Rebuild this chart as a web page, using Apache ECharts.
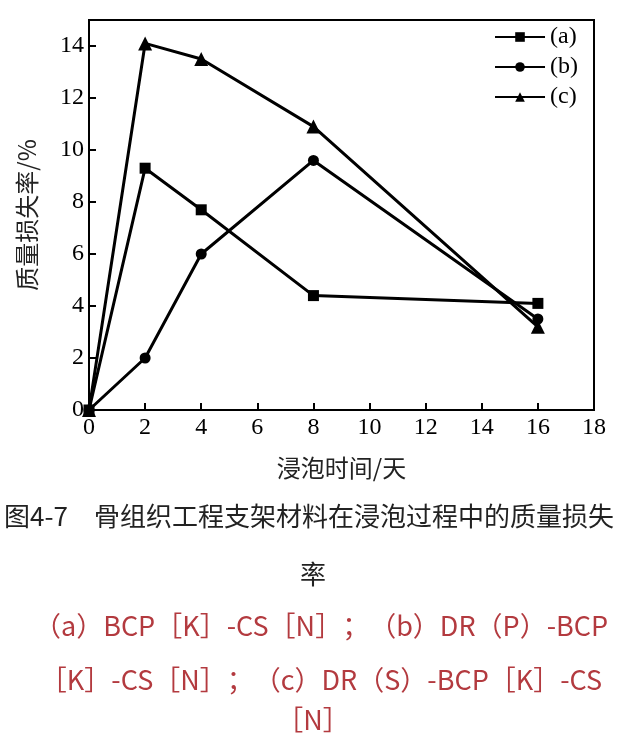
<!DOCTYPE html>
<html><head><meta charset="utf-8">
<script src="https://cdn.jsdelivr.net/npm/echarts@6/dist/echarts.min.js"></script>
<style>html,body{margin:0;padding:0;background:#fff}#c{width:627px;height:750px}</style>
</head><body><div id="c"></div>
<script>
const days = [0, 2, 4, 8, 16];
const seriesA = [0, 9.3, 7.7, 4.4, 4.1];
const seriesB = [0, 2.0, 6.0, 9.6, 3.5];
const seriesC = [0, 14.1, 13.5, 10.9, 3.2];
const seriesNames = ['(a)', '(b)', '(c)'];
const xTicks = [0, 2, 4, 6, 8, 10, 12, 14, 16, 18];
const yTicks = [0, 2, 4, 6, 8, 10, 12, 14];
const xTitle = '浸泡时间/天';
const yTitle = '质量损失率/%';
const captionLine1 = '图4-7\u3000骨组织工程支架材料在浸泡过程中的质量损失';
const captionLine2 = '率';
const noteLines = ['（a）BCP［K］-CS［N］；（b）DR（P）-BCP', '［K］-CS［N］；（c）DR（S）-BCP［K］-CS', '［N］'];

const serif = '"Liberation Serif","Times New Roman",serif';
const cjk = '"Noto Sans CJK SC","Noto Sans",sans-serif';
const pair = (ys) => days.map((d, i) => [d, ys[i]]);
const mk = (name, ys, sym, size) => ({
  name, type: 'line', data: pair(ys), symbol: sym, symbolSize: size,
  lineStyle: {color: '#000', width: 3}, itemStyle: {color: '#000'}, z: 3
});
const chart = echarts.init(document.getElementById('c'));
chart.setOption({
  animation: false,
  backgroundColor: '#fff',
  grid: {left: 89, right: 33, top: 20, bottom: 340, show: true, borderColor: '#000', borderWidth: 2},
  legend: {
    orient: 'vertical', right: 44, top: 20, itemWidth: 50, itemHeight: 12, itemGap: 6,
    textStyle: {fontFamily: serif, fontSize: 24, color: '#000'},
    data: seriesNames
  },
  xAxis: {
    type: 'value', min: 0, max: 18, interval: 2,
    name: xTitle, nameLocation: 'middle', nameGap: 46,
    nameTextStyle: {fontFamily: cjk, fontSize: 24, color: '#222'},
    axisLine: {lineStyle: {color: '#000', width: 2}},
    axisTick: {inside: true, length: 7, lineStyle: {color: '#000', width: 2}},
    axisLabel: {fontFamily: serif, fontSize: 24, color: '#000', margin: 6,
      formatter: v => xTicks.includes(v) ? String(v) : ''},
    splitLine: {show: false}
  },
  yAxis: {
    type: 'value', min: 0, max: 15, interval: 2,
    name: yTitle, nameLocation: 'middle', nameGap: 50, nameRotate: 90,
    nameTextStyle: {fontFamily: cjk, fontSize: 24, color: '#222'},
    axisLine: {lineStyle: {color: '#000', width: 2}},
    axisTick: {inside: true, length: 7, lineStyle: {color: '#000', width: 2}},
    axisLabel: {fontFamily: serif, fontSize: 24, color: '#000', margin: 5, showMaxLabel: false,
      formatter: v => yTicks.includes(v) ? String(v) : ''},
    splitLine: {show: false}
  },
  series: [
    mk(seriesNames[0], seriesA, 'rect', 11),
    mk(seriesNames[1], seriesB, 'circle', 11),
    mk(seriesNames[2], seriesC, 'triangle', 14)
  ],
  graphic: [
    {type: 'text', left: 4, top: 503, style: {text: captionLine1, font: '26px ' + cjk, fill: '#222'}},
    {type: 'text', x: 313, y: 561, style: {text: captionLine2, font: '26px ' + cjk, fill: '#222', textAlign: 'center'}},
    {type: 'text', x: 321, y: 612, style: {text: noteLines[0], font: '27px ' + cjk, fill: '#b33a3f', textAlign: 'center'}},
    {type: 'text', x: 321, y: 666, style: {text: noteLines[1], font: '27px ' + cjk, fill: '#b33a3f', textAlign: 'center'}},
    {type: 'text', x: 313, y: 706, style: {text: noteLines[2], font: '27px ' + cjk, fill: '#b33a3f', textAlign: 'center'}}
  ]
});
</script></body></html>
